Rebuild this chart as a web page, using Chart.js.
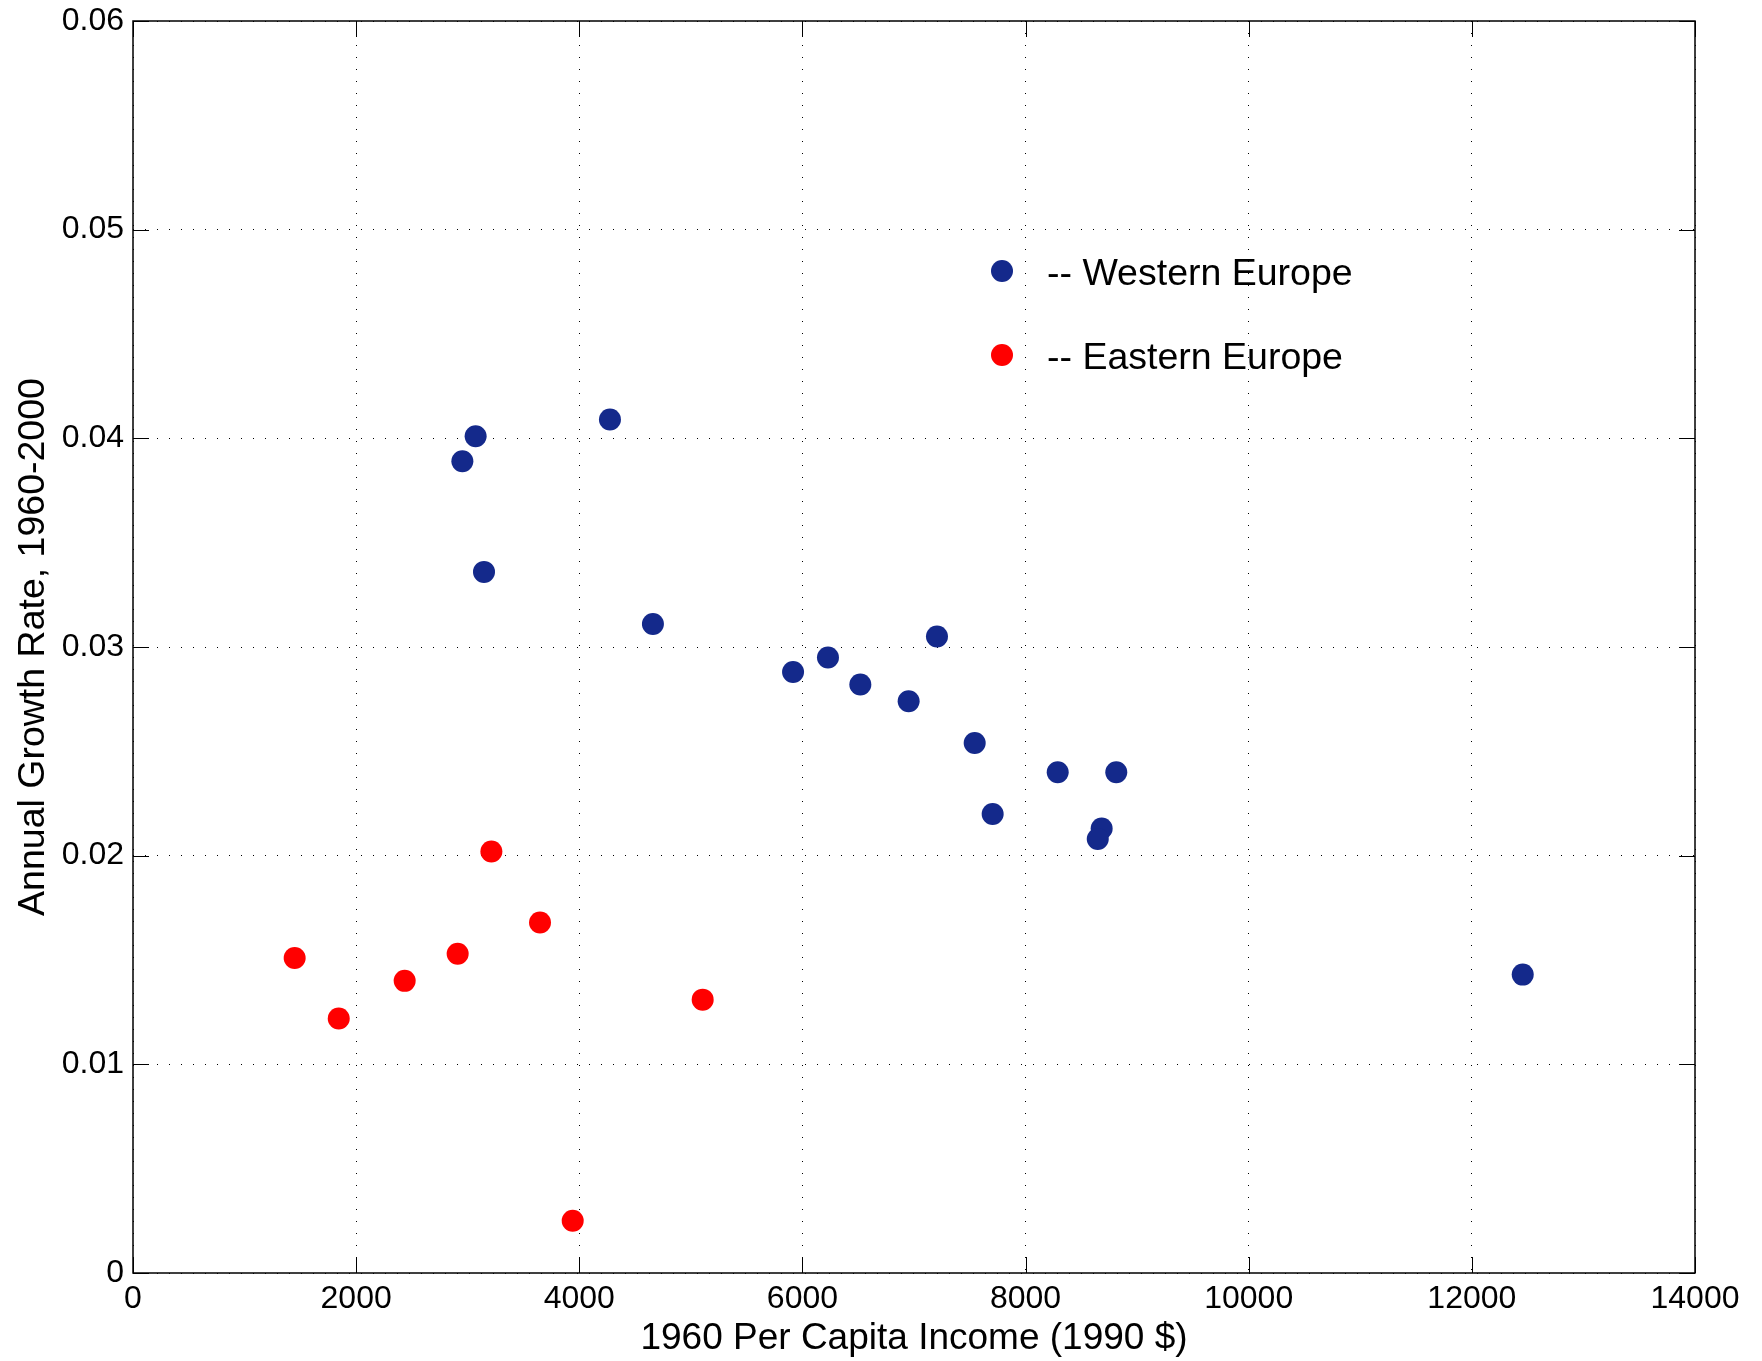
<!DOCTYPE html>
<html>
<head>
<meta charset="utf-8">
<script src="https://cdn.jsdelivr.net/npm/chart.js@4.4.1/dist/chart.umd.min.js"></script>
<style>
    html, body { margin: 0; padding: 0; background: #ffffff; }
    canvas { display: block; }
</style>
</head>
<body>
<canvas id="grafica" width="1762" height="1361"></canvas>
<script>
// datos
const ingresoOeste = [2952, 3071, 4275, 3146, 4660, 5916, 6229, 6519, 6952, 7206, 7544, 7705, 8288, 8813, 8682, 8647, 12456];
const crecimientoOeste = [0.0389, 0.0401, 0.0409, 0.0336, 0.0311, 0.0288, 0.0295, 0.0282, 0.0274, 0.0305, 0.0254, 0.0220, 0.0240, 0.0240, 0.0213, 0.0208, 0.0143];
const ingresoEste = [1449, 1844, 2435, 2910, 3212, 3648, 3941, 5106];
const crecimientoEste = [0.0151, 0.0122, 0.0140, 0.0153, 0.0202, 0.0168, 0.0025, 0.0131];
const ticksX = [0, 2000, 4000, 6000, 8000, 10000, 12000, 14000];
const ticksY = [0, 0.01, 0.02, 0.03, 0.04, 0.05, 0.06];
const nombresSeries = ["Western Europe", "Eastern Europe"];

const colorAzul = "#14298b";
const colorRojo = "#ff0000";
const fuente = "'Liberation Sans', Arial, Helvetica, sans-serif";

function puntos(xs, ys) {
    return xs.map((x, i) => ({ x: x, y: ys[i] }));
}

// marco completo y marcas hacia dentro, como en MATLAB
const marcoYMarcas = {
    id: "marcoYMarcas",
    beforeDatasetsDraw(chart) {
        const { ctx, chartArea: a, scales } = chart;
        const largo = 16;
        ctx.save();
        ctx.strokeStyle = "#000";
        ctx.lineWidth = 1.5;
        ctx.strokeRect(a.left, a.top, a.right - a.left, a.bottom - a.top);
        ctx.lineWidth = 1;
        ctx.beginPath();
        ticksX.forEach(v => {
            const px = Math.round(scales.x.getPixelForValue(v)) + 0.5;
            ctx.moveTo(px, a.bottom); ctx.lineTo(px, a.bottom - largo);
            ctx.moveTo(px, a.top); ctx.lineTo(px, a.top + largo);
        });
        ticksY.forEach(v => {
            const py = Math.round(scales.y.getPixelForValue(v)) + 0.5;
            ctx.moveTo(a.left, py); ctx.lineTo(a.left + largo, py);
            ctx.moveTo(a.right, py); ctx.lineTo(a.right - largo, py);
        });
        ctx.stroke();
        ctx.restore();
    }
};

const leyendaManual = {
    id: "leyendaManual",
    afterDatasetsDraw(chart) {
        const { ctx } = chart;
        const filas = [271, 355];
        ctx.save();
        chart.data.datasets.forEach((ds, i) => {
            const y = filas[i];
            ctx.beginPath();
            ctx.arc(1002, y, 11, 0, Math.PI * 2);
            ctx.fillStyle = ds.backgroundColor;
            ctx.fill();
            ctx.fillStyle = "#000";
            ctx.font = "37.5px " + fuente;
            ctx.textAlign = "left";
            ctx.textBaseline = "alphabetic";
            ctx.fillText("-- " + ds.label, 1047, y + 13.5);
        });
        ctx.restore();
    }
};

new Chart(document.getElementById("grafica"), {
    type: "scatter",
    data: {
        datasets: [{
            label: nombresSeries[0],
            data: puntos(ingresoOeste, crecimientoOeste),
            backgroundColor: colorAzul,
            borderColor: colorAzul,
            pointRadius: 11,
            borderWidth: 0
        }, {
            label: nombresSeries[1],
            data: puntos(ingresoEste, crecimientoEste),
            backgroundColor: colorRojo,
            borderColor: colorRojo,
            pointRadius: 11,
            borderWidth: 0
        }]
    },
    options: {
        responsive: false,
        animation: false,
        layout: { padding: { left: 0, top: 21, right: 67, bottom: 0 } },
        plugins: {
            legend: { display: false },
            tooltip: { enabled: false }
        },
        scales: {
            x: {
                type: "linear",
                min: 0,
                max: 14000,
                afterBuildTicks: scale => { scale.ticks = ticksX.map(v => ({ value: v })); },
                afterFit: scale => {
                    scale.height = 88;
                    scale.paddingLeft = 0;
                    scale.paddingRight = 0;
                },
                ticks: {
                    color: "#000",
                    padding: 7,
                    font: { family: fuente, size: 32 },
                    callback: v => String(v)
                },
                grid: { color: "#000", lineWidth: 1, drawTicks: false },
                border: { display: false, dash: [1, 11] },
                title: {
                    display: true,
                    text: "1960 Per Capita Income (1990 $)",
                    color: "#000",
                    font: { family: fuente, size: 37 },
                    padding: { top: 0, bottom: 0 }
                }
            },
            y: {
                type: "linear",
                min: 0,
                max: 0.06,
                afterBuildTicks: scale => { scale.ticks = ticksY.map(v => ({ value: v })); },
                afterFit: scale => {
                    scale.width = 133;
                    scale.paddingTop = 0;
                    scale.paddingBottom = 0;
                },
                ticks: {
                    color: "#000",
                    padding: 9,
                    font: { family: fuente, size: 32 },
                    callback: v => (v === 0 ? "0" : Number(v).toFixed(2))
                },
                grid: { color: "#000", lineWidth: 1, drawTicks: false },
                border: { display: false, dash: [1, 11] },
                title: {
                    display: true,
                    text: "Annual Growth Rate, 1960-2000",
                    color: "#000",
                    font: { family: fuente, size: 37.5 },
                    padding: { top: 11, bottom: 0 }
                }
            }
        }
    },
    plugins: [marcoYMarcas, leyendaManual]
});
</script>
</body>
</html>
